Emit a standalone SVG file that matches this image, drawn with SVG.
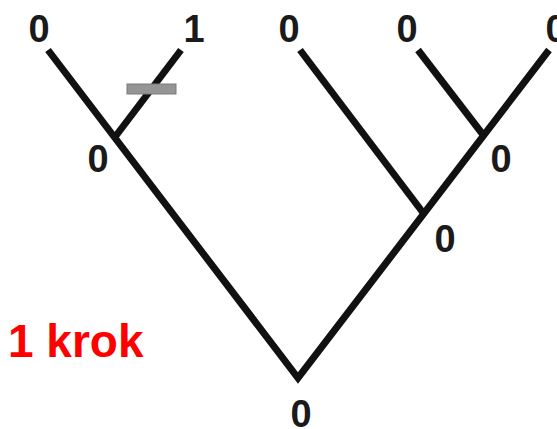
<svg xmlns="http://www.w3.org/2000/svg" width="557" height="429" viewBox="0 0 557 429">
<style>
.e{fill:none;stroke:#111;stroke-width:7;stroke-linecap:butt;stroke-linejoin:miter}
.l{font-family:"Liberation Sans",Arial,sans-serif;font-weight:bold;font-size:38px;fill:#1a1a1a;text-anchor:middle}
.r{font-family:"Liberation Sans",Arial,sans-serif;font-weight:bold;font-size:46px;fill:#ff0000}
</style>
<rect width="557" height="429" fill="#fff"/>
<g id="connectors">
<polyline class="e" points="48,50 298,378 549,50"/>
<line class="e" x1="181" y1="50" x2="115" y2="137"/>
<line class="e" x1="300" y1="50" x2="424" y2="214"/>
<line class="e" x1="418" y1="50" x2="484" y2="136"/>
<rect x="127" y="84" width="49" height="10" fill="#959595" stroke="#7a7a7a" stroke-width="1"/>
</g>
<g id="leaf1"><text class="l" x="39" y="42">0</text></g>
<g id="leaf2"><text class="l" x="194" y="42">1</text></g>
<g id="leaf3"><text class="l" x="289" y="42">0</text></g>
<g id="leaf4"><text class="l" x="407" y="42">0</text></g>
<g id="leaf5"><text class="l" x="556" y="42">0</text></g>
<g id="nodeA"><text class="l" x="98" y="172">0</text></g>
<g id="nodeB"><text class="l" x="501" y="172">0</text></g>
<g id="nodeC"><text class="l" x="445" y="252">0</text></g>
<g id="root"><text class="l" x="301" y="427">0</text></g>
<g id="label"><text class="r" x="8" y="357">1 krok</text></g>
</svg>
